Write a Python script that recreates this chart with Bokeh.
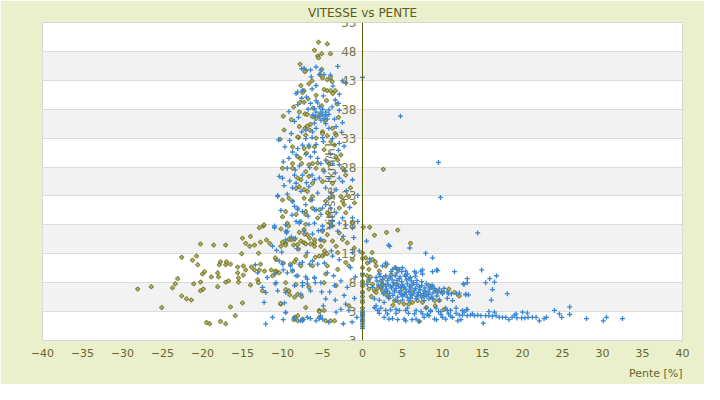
import math
from bokeh.plotting import figure
from bokeh.models import FixedTicker, Label, Range1d, ColumnDataSource, Title
from bokeh.embed import file_html
from bokeh.resources import INLINE

TITLE = "VITESSE vs PENTE"
X_LABEL = "Pente [%]"
Y_LABEL = "Vitesse [km/h]"
X_TICKS = [-40, -35, -30, -25, -20, -15, -10, -5, 0, 5, 10, 15, 20, 25, 30, 35, 40]
Y_TICKS = [-2, 3, 8, 13, 18, 23, 28, 33, 38, 43, 48, 53]
Y_TICK_LABELS = ["3", "3", "8", "13", "18", "23", "28", "33", "38", "43", "48", "53"]

# ---- olive series (pente, vitesse) ----
olive_upper = [(-5.5,49.6),(-4.4,49.3),(-6,48.2),(-5.1,47.6),(-5.6,47.2),(-5.5,46.9),(-4,47.6),(-7.8,45.8),
    (-7.1,44.7),(-7.2,44.5),(-5.1,44.9),(-5.3,44),(-5,43.4),(-4.4,43.1),(-4,43.5),(-3.8,42.8),(-6.3,42.9),
    (-6.7,42.4),(-7.7,42.1),(-7.3,41.2),(-7.5,40.9),(-4.8,41.4),(-4.4,41.2),(-4,41.2),(-3.4,41.2),(-3.7,40.7),
    (-5.8,40.4),(-6.8,39.8),(-7.8,39.2),(-7.3,39.2),(-7.9,37.5),(-7.2,37.2),(-6.9,37.1),(-6.25,36.7),(-5.8,36.4),
    (-5.4,37),(-9.9,36.8),(-9.8,34.4),(-10.3,32.8),(-7.9,35),(-7.2,34.7),(-6.9,35.1),(-6.5,35.4),(-6.6,34.4),
    (-5,34.1),(-3.75,34.7),(-3.4,33.8),(-3.95,32.4),(-4.4,33.4),(-8,33.1),(-7.3,31.2),(-6.7,31.5),(-7.8,29.5),
    (-7,30.4),(-7.6,28.6),(-8.75,28.6),(-6.25,28.6),(-5.8,27.8),(-4.9,27.5),(-4.2,28.6),(-7.1,27.2),(-6.7,26.4),
    (-8.1,26.1),(-3.3,29.8),(-8.1,33.2),(-7.1,33.5),(-5.8,33),(-5,33.8),(-3.3,33.5),(-8.75,31.5),(-6,31.5),
    (-4.8,31),(-3.5,31.8),(-2.7,30.1),(-8.1,29.8),(-6.7,28.4),(-5.6,28.7),(-4.4,28.9),(-3.1,29.2),(-2.5,27.8),
    (-10,27.8),(-8.75,27.8),(-5.1,38.6),(-4.5,39.5),(-6.2,38.2),(-3.2,38.9),(-4.7,36.0),(-3.0,36.6),(-8.6,38.4),
    (-8.9,36.2)]
olive_middle = [(-7.7,25.8),(-6.25,25.2),(-5,25.5),(-3.75,25.2),(-2.1,26.6),(-1.5,24.4),(-1.0,21.8),(-10,22.3),
    (-9.2,22.6),(-7.3,22.6),(-6.5,22.3),(-4.6,22.1),(-2.7,22.9),(-2.3,21.5),(-9.6,20.3),(-8.3,19.8),(-7.1,19.8),
    (-5.6,19.2),(-4.2,19.8),(-2.1,20.1),(-1.25,18.3),(-9.4,18.3),(-7.3,17.2),(-5,16.9),(-2.9,16.6),
    (-7.3,24.1),(-6.9,23.8),(-7.9,24.6),(-8.3,24.3),(-8.75,22.1),(-6.25,22.9),(-7.1,20.3),(-6.25,20.9),
    (-5.4,20.6),(-2.9,20.9),(-2.5,22.1),(-1.7,22.9),(-3.75,22.9),(-4.4,20.1),(-10,19.4),(-9.25,17.8),(-10.2,17.3),
    (-10.2,14.3),(-9.6,14.9),(-9.2,15.5),(-8.5,15.5),(-8.1,14.6),(-7.7,15.2),(-7.3,14.9),(-6.9,16.3),(-6.0,14.9),
    (-5.2,14.3),(-4.8,15.2),(-4.4,16.3),(-3.75,15.2),(-3.3,14.3),(-2.5,15.5),(-1.9,14.9),(-1.04,14.0),
    (-10,15),(-9.6,14.5),(-8.9,15.4),(-8.6,14.5),(-7.9,16.7),(-7.25,16.4),(-7.1,14.7),(-7.1,18.1),(-6.6,15.7),
    (-6.5,14.7),(-6,15.4),(-6,14.3),(-5.25,15.4),(-4.1,18.3)]
olive_wide = [(-28.1,6.9),(-26.4,7.3),(-25.1,3.7),(-23.75,7.1),(-23.1,8.7),(-23.4,7.8),(-22.6,12.4),(-22.6,5.7),
    (-22,5.2),(-21.4,5.0),(-21.25,11.9),(-20.75,12.6),(-20.6,11.1),(-21.1,7.8),(-20.25,14.7),(-20.25,8.1),
    (-20.25,6.6),(-19.9,6.9),(-20,9.5),(-19.75,9.9),(-19.5,1.1),(-19.1,0.9),(-18.6,14.5),(-18.9,9.0),(-18.1,9.7),
    (-18,9.0),(-18.1,7.3),(-17.9,11.1),(-17.75,11.6),(-17.75,1.3),(-17.1,14.5),(-17.1,11.1),(-17,11.6),(-17.1,8.1),
    (-16.75,8.3),(-16.5,11.2),(-16.5,3.8),(-17.1,0.9),(-15.9,2.3),(-15.6,10.7),(-15.6,9.7),(-15.5,8.1),(-15.5,8.8),
    (-15,15.7),(-15.1,13.0),(-14.9,10.9),(-14.9,9.3),(-15,4.5),(-14.6,10.2),(-14.6,14.8),(-14,16),(-14.1,14.3),
    (-14,7.6),(-13.9,10.7),(-13.5,14.5),(-13.5,10.2),(-13.1,8.5),(-13,13.1),(-12.9,10.2),(-13,8),(-12.75,15),
    (-12.75,11.2),(-12.4,17.8),(-12.25,10),(-12.5,6.6),(-12,15.4),(-11.6,14.8),(-11.4,10.2),(-12.3,18.0),(-12.9,17.5)]
olive_low = [(-10.8,12.0),(-8.3,12.0),(-7.1,12.6),(-5.4,12.6),(-4.8,12.9),(-3.1,13.2),(-2.1,11.5),(-1.25,12.0),
    (-10.8,10.0),(-10.4,9.7),(-8.75,10.0),(-7.7,10.9),(-6.25,10.9),(-4.4,10.9),(-3.1,10.3),(-1.7,10.9),(-11.25,9.2),
    (-9.6,8.0),(-8.3,7.7),(-6.7,7.2),(-4.8,8.0),(-3.3,7.5),(-9.2,6.6),(-8.1,6.0),(-10.2,4.3),(-8.5,5.5),(-7.1,3.7),
    (-5.4,3.2),(-8.1,1.4),(-8.5,2.0),(-7.5,1.7),(-5.4,2.0),(-4.8,3.2),(-3.5,1.4),(-1.7,4.0),(-10.9,12.3),(-10.9,9.9),
    (-10.25,4.4),(-9.9,11.4),(-9.6,6.8),(-9,11.2),(-9.1,5.9),(-8.6,1.6),(-8.5,11.6),(-8.1,2.3),(-8,13.8),(-7.6,5.6),
    (-5.9,12.4),(-5.4,3),(-5,12.6),(-4.75,13.5),(-4.4,13),(-4.6,9.5),(-4,1.4),(-4.6,1.4)]
olive_right = [(0.9,17.6),(1.5,16.2),(3,16.7),(4.4,17.1),(6,14.8),(2.6,27.6),(0.1,17.6),(0.4,12.3),(1.25,12.0),
    (1.6,11.6),(1.7,10.9),(0.8,10.3),(0.6,9.2),(1.0,9.0),(0.75,8.3),(1.25,7.7),(0.8,6.9),(1.5,6.6),(1.7,6.3),
    (1.9,7.05),(2.3,8.3),(2.5,7.7),(2.7,8.9),(2.9,10.9),(4.1,10.6),(4.4,10.3),(2.9,6),(3.3,5.45),(4,4.9),(4.6,4.6),
    (5.2,4.3),(5.8,4.3),(6.25,4.6),(6.9,4.9),(7.5,4.6),(8.3,7.5),(8.75,7.2),(9.2,6.6),(9,4.9),(9.6,4.9),(10.8,6.9),
    (11.5,6.3),(7.1,1.3),(10.2,3.4),(4.2,7.7),(5,6.9),(6,6.6),(7.7,5.7),(2.1,10),(2.3,7.2),(2.5,6.6),(12.1,5.7),
    (10,6.3),(9.1,4.0),(1.2,13.2),(0.6,11.4),(3.6,9.4),(1.1,5.6),(3.8,4.1),(8.0,3.7)]
olive_zero = [(0,1.5),(0,2.4),(0,3.6),(0,4.6),(0,5.6),(0,6.4),(0,7.4),(0,8.2),(0,9.3),(0,10.6),(0,12.2),(0,13.1)]

# ---- blue series (pente, vitesse) ----
blue_upper = [(-7.6,45),(-7.3,45.1),(-6.5,44.8),(-5.8,45.3),(-5.2,44.7),(-5.4,44),(-4.8,44),(-3.1,45.4),
    (-8.3,40.7),(-8.1,41),(-6.3,41.5),(-5.8,42.1),(-3.7,42),(-2.9,40.6),(-5.6,39.1),(-5.8,39.5),(-8.1,38.8),
    (-6.5,39),(-6.0,38.1),(-5.4,38.4),(-5.0,38.0),(-4.6,37.5),(-5.2,37.5),(-5.8,37.5),(-5.0,37.1),(-4.6,36.9),
    (-5.4,36.7),(-4.8,36.4),(-5.9,36.8),(-5.2,36.1),(-4.4,36.3),(-6.2,37.0),(-4.2,37.9),(-4.2,37.1),(-3.5,36.3),
    (-2.9,37.8),(-2.5,35.7),(-3.3,35),(-4.2,34.7),(-4.6,35.5),(-5.8,34.7),(-6.25,34.1),(-7.1,34.4),(-7.6,34.1),
    (-8.5,35.9),(-10.5,32.7),(-6.3,33.1),(-5,33.1),(-3.75,32.9),(-2.9,32.1),(-5.8,31.9),(-6.7,31.8),(-7.5,31.8),
    (-8.1,31.2),(-8.3,30.1),(-8.75,30.6),(-7.1,30.2),(-6.5,29.8),(-5.6,29.5),(-6,30.6),(-5.2,28.6),(-4.6,29.2),
    (-3.75,28.6),(-2.9,28.4),(-9.2,29.5),(-9.4,27.8),(-8.4,27.5),(-7.5,26.6),(-6.3,26.6),(-5.4,26.1),(-10.4,26.4),
    (-10,26.1),(-2.1,42.5),(-2.5,42.9),(-4,43.9),(-7.5,41.3),(-3.4,39.6),(-7.0,40.1),(-9.2,37.6),(-3.0,39.0),
    (-6.8,38.0),(-8.9,33.8),(-2.6,34.0),(-9.7,31.5),(-2.9,26.1),(-4.8,27.2),(-8.5,26.6),
    (-9.8,24.8),(-9.1,25.6),(-7.0,25.3),(-6.0,25.8),(-4.2,26.0),(-3.4,27.0),(-2.2,27.4),(-6.6,27.9),(-7.9,28.2),
    (-9.9,28.9),(-4.0,30.3),(-3.0,30.9),(-2.3,31.6),(-4.9,32.4),(-7.1,32.9),(-9.1,32.6),(-6.0,35.6),(-8.0,36.6),
    (-3.8,38.4),(-7.6,39.9),(-4.9,40.3),(-6.4,43.6),
    (0,43.5),(4.75,36.8),(9.5,28.8),(9.75,22.75)]
blue_middle = [(-1.25,25.8),(-2.5,25.5),(-8.3,25.2),(-8.75,24.4),(-7.7,23.8),(-6.7,24.6),(-5.6,23.5),(-4.6,24.4),
    (-3.95,23.5),(-3.3,24.1),(-0.6,23.1),(-10.6,23.1),(-8.75,22.1),(-8.1,20.6),(-7.1,21.5),(-6.0,20.6),(-5,20.9),
    (-3.3,20.1),(-2.5,19.2),(-1.25,19.2),(-0.6,18.6),(-11,17.5),(-9.6,16.9),(-8.3,18.6),(-7.7,18.6),(-6.7,18.1),
    (-5,17.8),(-3.75,18.6),(-10.6,22.9),(-8.1,20.9),(-8.5,21.2),(-7.5,20.3),(-5.8,20.6),(-5.2,19.8),(-4,20.9),
    (-4.6,21.5),(-2.9,18.3),(-3.75,17.8),(-3.1,16.9),(-6.0,18.3),(-5,17.2),(-7.9,18.3),(-9.6,18.0),(-11.0,17.8),
    (-9.4,16.9),(-7.3,16.9),(-2.1,18.0),(-1.25,17.5),(-9.5,16.6),(-8.9,15.9),(-10.75,13.6),(-10.1,13.3),
    (-9.6,15.4),(-8.4,15.7),(-6.25,16.4),(-5.25,15.5),(-4.1,17.6),(-7.9,18.5),(-3.9,13.5),(-11.25,14.3),
    (-9.4,23.3),(-6.3,22.3),(-4.2,22.6),(-2.0,23.9),(-1.6,21.0),(-3.8,19.4),(-6.8,19.5),(-8.8,19.7),(-10.2,20.5),
    (-5.5,17.0),(-2.4,16.0),(-1.1,15.8),(-8.2,13.9),(-6.9,13.2)]
blue_low = [(-0.4,13.5),(-1.25,13.2),(-3.75,12.6),(-6.25,11.75),(-7.5,11.5),(-9,10.9),(-10,11.2),(-11.9,8.9),
    (-10.8,8.0),(-8.3,9.2),(-7.5,7.5),(-6.9,8.6),(-6.0,8.9),(-5.2,8.0),(-3.5,7.5),(-2.7,8.3),(-1.9,7.2),(-12.5,7.2),
    (-12.1,6.3),(-10.6,6.6),(-7.7,6.0),(-9.6,6.3),(-12.3,4.6),(-12.1,0.86),(-11.25,2.0),(-9.6,2.9),(-7.5,1.4),
    (-6.9,2.0),(-5.8,1.4),(-5,1.7),(-4.2,1.15),(-3.3,2.9),(-2.7,3.4),(-2.1,4.3),(-1.7,3.2),(-13.1,9.7),(-13.4,11.1),
    (-10.9,9.5),(-10.9,7.8),(-10.4,11.75),(-9.9,10.2),(-9.4,9.7),(-8.75,10.2),(-8.5,7.5),(-8.1,9.2),(-7.9,11.2),
    (-7.5,8),(-7.1,9),(-6.9,7.8),(-6.6,11.2),(-6.5,6.6),(-6,8.8),(-5.9,8),(-5.6,11.2),(-5.1,6.4),(-4.75,11.4),
    (-4.6,5.2),(-4.4,9.7),(-4.1,6.4),(-4.9,4),(-5.25,2.3),(-5.4,1.8),(-6.5,1.8),(-7.4,1.6),(-7.75,1.4),(-8.5,1.8),
    (-9.9,1.6),(-9.6,2.8),(-9.75,4.5),(-2.9,12.0),(-1.5,10.6),(-3.6,9.2),(-0.9,9.0),(-2.3,5.8),(-1.0,5.3),(-3.4,5.0),
    (-0.7,2.0),(-1.3,1.2),(-2.4,0.9)]
blue_right = [(14.4,16.6),(0.5,15.2),(3.25,14.5),(3.4,14.3),(5.9,14),(7.9,13.1),(8.75,12.3),(0.9,12.1),(0.9,11.6),
    (2.9,11.4),(6.5,9.9),(7.5,10.2),(8.75,9.9),(9.25,10.2),(11.5,9.9),(14.9,10.2),(15.4,8),(15.9,8.7),(16.5,8.1),
    (16.75,9.2),(13.1,8.7),(12.6,7.8),(16.25,6.8),(18.1,6.1),(16.1,5),(12.9,5.9),(13.25,5.9),(12.1,6.2),(11.75,6.1),
    (11.1,6.1),(10.75,6.1),(2.5,10.9),(3.1,11.2),(3.75,10.3),(4.2,10.6),(4.6,10.3),(5,10.6),(5.4,10),(5.6,9.5),
    (6.7,9.7),(7.3,10),(7.5,9.5),(9.4,10.1),(12.7,7.7),(13.1,8),(12.9,6),(0.8,8.6),(0.6,7.7),(1.25,7.2),(2.1,9.5),
    (1.7,8.9),(1.5,3.7),(1.9,3.2)]
blue_blob = [(3.6,9.9),(4.3,9.7),(4.9,9.9),(5.3,9.3),
    (2.2,9.1),(2.9,9.2),(3.5,9.0),(4.1,9.2),(4.7,9.0),(5.4,9.1),(6.0,8.9),(6.6,9.1),
    (1.8,8.3),(2.5,8.5),(3.1,8.3),(3.7,8.5),(4.3,8.4),(4.9,8.2),(5.5,8.5),(6.1,8.3),(6.8,8.4),(7.4,8.2),
    (2.0,7.6),(2.6,7.8),(3.2,7.7),(3.8,7.5),(4.4,7.8),(5.0,7.6),(5.6,7.8),(6.2,7.6),(6.8,7.7),(7.4,7.5),(8.0,7.8),
    (8.7,7.6),(2.4,7.1),(3.0,6.9),(3.6,7.1),(4.2,7.0),(4.8,7.2),(5.4,6.9),(6.0,7.1),(6.6,7.0),(7.2,6.8),(7.8,7.1),
    (8.4,6.9),(9.0,7.0),(9.6,6.9),(10.2,7.0),(2.8,6.4),(3.4,6.2),(4.0,6.4),(4.6,6.3),(5.2,6.1),(5.8,6.4),(6.4,6.2),
    (7.0,6.3),(7.6,6.1),(8.2,6.4),(8.8,6.2),(9.4,6.3),(10.0,6.1),(10.6,6.4),(3.2,5.6),(3.8,5.8),(4.4,5.5),(5.0,5.7),
    (5.6,5.5),(6.2,5.8),(6.8,5.6),(7.4,5.4),(8.0,5.7),(8.6,5.5),(9.3,5.7),(1.5,5.2),(2.1,5.0),(2.7,4.6),(3.3,5.3),
    (4.2,4.9),(5,5.0),(5.8,4.9),(6.7,5.2),(7.7,4.9),(8.75,5.3),(9.6,5.0),(10.6,5.3),(11.25,4.9),
    (3.3,8.8),(3.9,8.0),(4.6,8.7),(5.2,7.3),(5.9,7.4),(6.5,6.7),(7.1,7.3),(7.7,6.6),(8.3,6.0),(4.0,6.7),
    (4.7,6.6),(5.5,6.4),(6.1,6.0),(6.9,5.9),(4.5,7.4),(3.5,7.4),(2.9,7.4),(5.8,8.7),(6.4,8.0),(7.9,6.4),
    (9.1,6.6),(9.9,6.5),(8.5,7.3),(3.1,6.5),(2.6,6.1),(5.3,5.9),(7.3,5.8),(4.9,6.0),(6.0,5.3),(8.3,5.2)]
blue_tail = [(1.7,4.0),(2.3,3.6),(2.9,3.2),(3.5,3.3),(4.2,3.4),(5.4,3.2),(5.6,3.6),(6.7,3.2),(7.3,3.0),(7.9,3.6),
    (8.5,3.0),(9.2,3.6),(9.8,3.0),(10.4,3.6),(11.0,3.2),(11.7,3.6),(12.5,3.2),(13.1,3.4),(13.75,2.6),(19.2,2.6),
    (20,2.9),(23.0,2.0),(22.7,1.8),(22.1,1.4),(21.7,2.0),(21.25,2.0),(20.7,2.0),(20.6,2.75),(20.3,1.9),(19.9,1.9),
    (19.3,1.9),(19,2.4),(18.7,2),(18.3,1.6),(17.9,2),(17.5,2),(17.1,2),(16.7,2.3),(16.5,2.9),(16.25,2.2),(15.8,2.3),
    (15.8,3),(15.4,2.3),(15.1,1.0),(14.8,2.3),(14.4,2.4),(14,2.3),(13.5,2.4),(13.1,2.3),(13,3.3),(12.7,2.9),
    (12.5,2.4),(12.3,1.6),(12.1,2.4),(11.9,1.4),(11.7,2.7),(11.25,2),(11,2.2),(10.75,2.6),(10.6,3.2),(10.4,1.7),
    (10,2),(9.8,2.5),(9.5,3),(9.25,1.6),(9,1.7),(8.5,3.2),(8.3,2.3),(8.1,2.5),(7.7,2),(7.5,2.6),(7.1,1.3),(6.7,1.7),
    (6.5,2.6),(6.2,1.6),(5.75,2.7),(5.4,1.4),(5.2,1.7),(4.6,3.2),(4.4,1.6),(4.2,2.7),(3.75,1.8),(3.3,1.7),(3.1,2.6),
    (2.7,2),(2.1,2.7),(1.9,3.2),(1.5,3.7),(25.9,3.8),(24,3.2),(24.6,2.6),(24.9,2.0),(25.9,2.5),(28,1.8),(30.1,1.4),
    (30.5,2.0),(32.5,1.8)]
blue_zero = [(0,0.1),(0,0.4),(0,0.7),(0,1.0),(0,1.3),(0,1.6),(0,1.9),(0,2.2),(0,2.5),(0,2.8),(0,3.1),(0,5.0),
    (0,6.2),(0,7.8),(0,9.6)]

BG = "#ebf0cc"
TXT = "#66662e"

olive_pts = olive_upper + olive_middle + olive_wide + olive_low + olive_right + olive_zero
blue_pts = blue_upper + blue_middle + blue_low + blue_right + blue_blob + blue_tail + blue_zero

p = figure(width=704, height=384, x_range=Range1d(-40, 40), y_range=Range1d(-2, 53),
           output_backend="svg", toolbar_location=None,
           min_border_left=42, min_border_right=22, min_border_top=6, min_border_bottom=20,
           border_fill_color=BG, background_fill_color="white",
           outline_line_color="#d6d6d6")

p.title.text = TITLE
p.title.align = "center"
p.title.offset = -10
p.title.standoff = 6
p.title.text_font = "DejaVu Sans"
p.title.text_font_size = "12px"
p.title.text_font_style = "normal"
p.title.text_color = "#5c5c22"

p.add_layout(Title(text=X_LABEL, align="right", text_font="DejaVu Sans", text_font_size="11px",
                   text_font_style="normal", text_color=TXT), "below")

p.xgrid.visible = False
p.ygrid.ticker = FixedTicker(ticks=Y_TICKS)
p.ygrid.grid_line_color = "#dcdcdc"
p.ygrid.band_fill_color = "#f2f2f2"
p.ygrid.band_fill_alpha = 1.0

xa = p.xaxis[0]
xa.ticker = FixedTicker(ticks=X_TICKS)
xa.axis_line_color = None
xa.major_tick_line_color = None
xa.minor_tick_line_color = None
xa.major_tick_out = 0
xa.major_tick_in = 0
xa.major_label_standoff = 8
xa.major_label_text_font = "DejaVu Sans"
xa.major_label_text_font_size = "11px"
xa.major_label_text_color = TXT

ya = p.yaxis[0]
ya.fixed_location = 0
ya.ticker = FixedTicker(ticks=Y_TICKS)
ya.major_label_overrides = {t: s for t, s in zip(Y_TICKS, Y_TICK_LABELS)}
ya.axis_line_color = "#5f5f0a"
ya.major_tick_line_color = None
ya.minor_tick_line_color = None
ya.major_tick_out = 0
ya.major_tick_in = 0
ya.major_label_standoff = 6
ya.major_label_text_font = "DejaVu Sans"
ya.major_label_text_font_size = "12px"
ya.major_label_text_color = "#77774a"

blue_src = ColumnDataSource(dict(x=[a for a, b in blue_pts], y=[b for a, b in blue_pts]))
olive_src = ColumnDataSource(dict(x=[a for a, b in olive_pts], y=[b for a, b in olive_pts]))

p.scatter("x", "y", source=olive_src, marker="plus", size=4, fill_color="#c0c070",
          line_color="#555500", line_width=0.6)
p.scatter("x", "y", source=blue_src, marker="cross", size=5, line_color="#3a86d6", line_width=1.3)

p.add_layout(Label(x=-4, y=24.6, text=Y_LABEL, angle=math.pi / 2, text_align="center",
                   text_baseline="middle", text_font="DejaVu Sans", text_font_size="12px",
                   text_color="#77774a"))

open("out.html", "w").write(file_html(p, INLINE))
